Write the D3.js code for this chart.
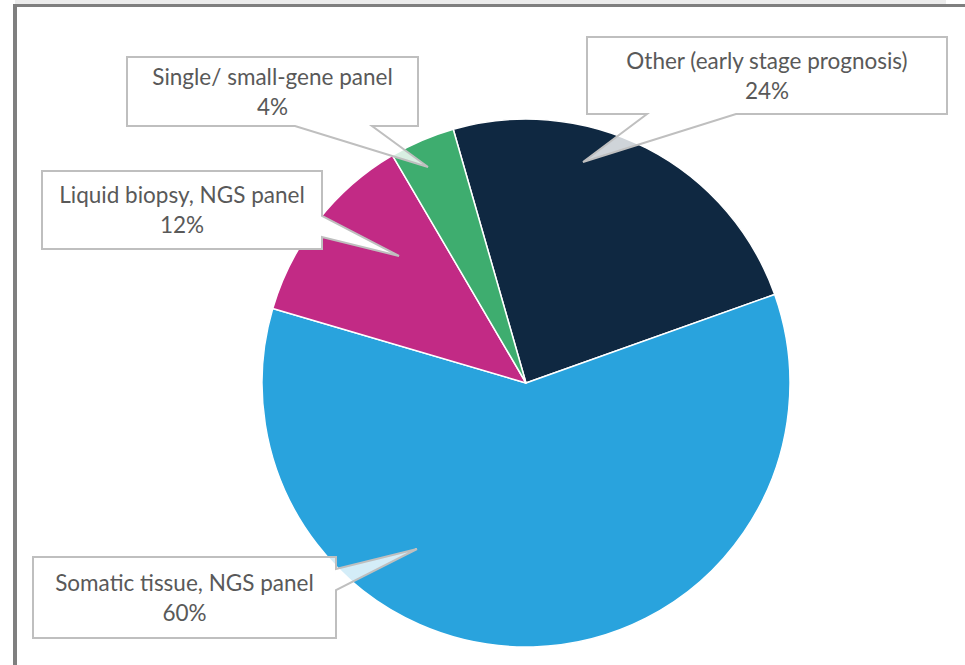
<!DOCTYPE html>
<html>
<head>
<meta charset="utf-8">
<script src="https://cdn.jsdelivr.net/npm/d3@7"></script>
<style>
  body { margin: 0; background: #fff; }
  svg { display: block; }
</style>
</head>
<body>
<svg id="chart" width="965" height="665"></svg>
<script>
// slice data, clockwise starting from the "Other" slice
var labels = ["Other (early stage prognosis)", "Somatic tissue, NGS panel", "Liquid biopsy, NGS panel", "Single/ small-gene panel"];
var values = [24, 60, 12, 4];
var colors = ["#0f2841", "#29a3dd", "#c22a85", "#3ead6f"];

// callout boxes (layout only): box x, y, w, h, tail base side and tip
var callouts = [
  { x: 587, y: 37, w: 360, h: 77, side: "bottom", b0: 647, b1: 736, tip: [583, 162], op: 0.8 },
  { x: 33, y: 557, w: 303, h: 81, side: "right", b0: 569, b1: 590, tip: [417, 549], op: 0.8 },
  { x: 42, y: 171, w: 280, h: 78, side: "right", b0: 216, b1: 237, tip: [399, 256], op: 1 },
  { x: 127, y: 57, w: 291, h: 69, side: "bottom", b0: 295, b1: 372, tip: [428, 167], op: 0.8 }
];

var svg = d3.select("#chart");
var cx = 526, cy = 383, radius = 264;

// frame of the chart area
svg.append("rect").attr("x", 15).attr("y", 0).attr("width", 931).attr("height", 4).attr("fill", "#ececec");
svg.append("rect").attr("x", 13).attr("y", 4).attr("width", 952).attr("height", 3).attr("fill", "#7f7f7f");
svg.append("rect").attr("x", 13).attr("y", 4).attr("width", 4).attr("height", 661).attr("fill", "#7f7f7f");

var pie = d3.pie()
  .sort(null)
  .startAngle(-16 * Math.PI / 180)
  .endAngle(344 * Math.PI / 180);

var arc = d3.arc().innerRadius(0).outerRadius(radius);

var g = svg.append("g").attr("transform", "translate(" + cx + "," + cy + ")");

g.selectAll("path")
  .data(pie(values))
  .enter()
  .append("path")
  .attr("d", arc)
  .attr("fill", function(d, i) { return colors[i]; })
  .attr("stroke", "#fff")
  .attr("stroke-width", 1.5)
  .attr("stroke-linejoin", "round");

function calloutPath(c) {
  var x0 = c.x, y0 = c.y, x1 = c.x + c.w, y1 = c.y + c.h;
  if (c.side == "bottom") {
    return "M" + x0 + "," + y0 + "L" + x1 + "," + y0 + "L" + x1 + "," + y1 +
      "L" + c.b1 + "," + y1 + "L" + c.tip[0] + "," + c.tip[1] +
      "L" + c.b0 + "," + y1 + "L" + x0 + "," + y1 + "Z";
  }
  return "M" + x0 + "," + y0 + "L" + x1 + "," + y0 + "L" + x1 + "," + c.b0 +
    "L" + c.tip[0] + "," + c.tip[1] + "L" + x1 + "," + c.b1 +
    "L" + x1 + "," + y1 + "L" + x0 + "," + y1 + "Z";
}

var lab = svg.append("g")
  .selectAll("g")
  .data(callouts)
  .enter()
  .append("g");

lab.append("path")
  .attr("d", calloutPath)
  .attr("fill", "#fff")
  .attr("fill-opacity", function(d) { return d.op; })
  .attr("stroke", "#bfbfbf")
  .attr("stroke-width", 2)
  .attr("stroke-linejoin", "miter");

var txt = lab.append("text")
  .attr("text-anchor", "middle")
  .attr("fill", "#595959")
  .attr("font-family", "Lato, sans-serif")
  .attr("font-size", 22.5);

txt.append("tspan")
  .attr("x", function(d) { return d.x + d.w / 2; })
  .attr("y", function(d) { return d.y + d.h / 2 - 7; })
  .text(function(d, i) { return labels[i]; });

txt.append("tspan")
  .attr("x", function(d) { return d.x + d.w / 2; })
  .attr("y", function(d) { return d.y + d.h / 2 + 23; })
  .text(function(d, i) { return values[i] + "%"; });
</script>
</body>
</html>
